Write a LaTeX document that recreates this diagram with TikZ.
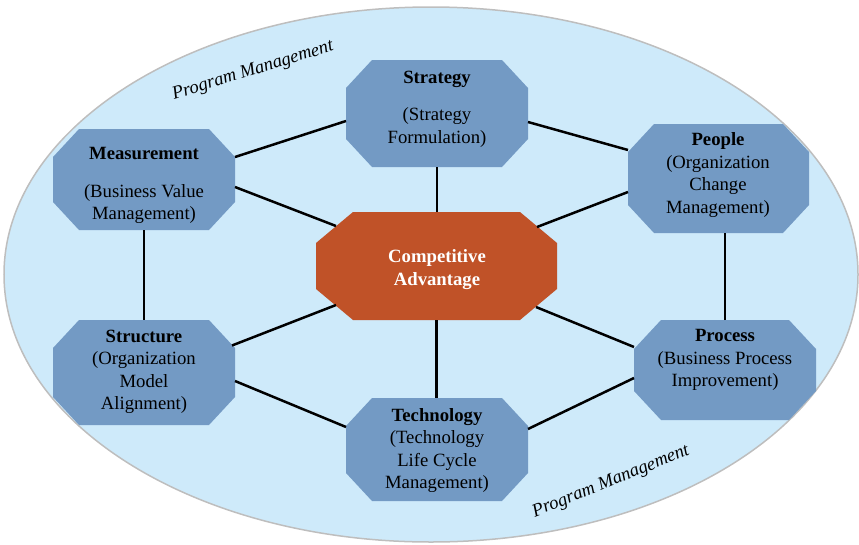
\documentclass[tikz,border=0pt]{standalone}
\usepackage{fontspec}
\setmainfont{Liberation Serif}
\usetikzlibrary{shapes.geometric,calc}
\definecolor{ellfill}{RGB}{206,234,250}
\definecolor{ellline}{RGB}{190,190,190}
\definecolor{octblue}{RGB}{115,154,196}
\definecolor{octorange}{RGB}{192,82,40}
\newcommand\octbox[8]{%
  \node[octshape, minimum width=#4pt, minimum height=#5pt] (#1) at (#2,#3) {};
  \fill[#8] ([xshift=#6pt]#1.north west) -- ([xshift=-#6pt]#1.north east)
    -- ([yshift=-#7pt]#1.north east) -- ([yshift=#7pt]#1.south east)
    -- ([xshift=-#6pt]#1.south east) -- ([xshift=#6pt]#1.south west)
    -- ([yshift=#7pt]#1.south west) -- ([yshift=-#7pt]#1.north west) -- cycle;
}
\begin{document}
\begin{tikzpicture}[x=1pt,y=-1pt,
  octshape/.style={rectangle, inner sep=0pt, outer sep=0pt},
  txt/.style={align=center, font=\fontsize{18.7}{22.5}\selectfont, inner sep=0pt},
  conn/.style={line width=2.5pt, black},
  pmtext/.style={font=\fontsize{18.5}{20}\selectfont\itshape, inner sep=0pt}]
\useasboundingbox (0,0) rectangle (859,544);
\node[ellipse, draw=ellline, line width=1.5pt, fill=ellfill, minimum width=854pt, minimum height=535pt, inner sep=0pt] (pmell) at (431,274.5) {};
\octbox{strat}{437}{113.5}{182}{107}{26}{28}{octblue}
\octbox{meas}{144}{179.5}{182}{101}{26}{28}{octblue}
\octbox{people}{718.5}{178.5}{181}{109}{26}{28}{octblue}
\octbox{ca}{436.5}{266}{241}{108}{37}{31}{octorange}
\octbox{struct}{144}{372.5}{182}{105}{26}{28}{octblue}
\octbox{tech}{437}{449.5}{182}{103}{26}{28}{octblue}
\octbox{proc}{725}{370}{182}{100}{27}{29}{octblue}
\draw[conn] ([yshift=22.5pt]meas.east) -- ([yshift=-7.5pt]strat.west);
\draw[conn] ([yshift=-8.5pt]strat.east) -- ([yshift=28.5pt]people.west);
\draw[conn] (strat.south) -- (strat.south |- ca.north);
\draw[conn] ([yshift=-7.5pt]meas.east) -- ([xshift=20pt,yshift=40pt]ca.west);
\draw[conn] ([yshift=-13.5pt]people.west) -- ([xshift=-20pt,yshift=39pt]ca.east);
\draw[conn] (meas.south) -- (struct.north);
\draw[conn] (proc.north) -- (proc.north |- people.south);
\draw[conn] ([xshift=-3pt,yshift=27pt]struct.east) -- ([xshift=20pt,yshift=-39pt]ca.west);
\draw[conn] ([yshift=-8.5pt]struct.east) -- ([yshift=22.5pt]tech.west);
\draw[conn] ([xshift=-21pt,yshift=-41pt]ca.east) -- ([yshift=23pt]proc.west);
\draw[conn] (ca.south) -- (ca.south |- tech.north);
\draw[conn] ([yshift=20.5pt]tech.east) -- ([yshift=-8pt]proc.west);
\node[txt] (strat-t) at (437,109) {\textbf{Strategy}\\[15pt](Strategy\\Formulation)};
\node[txt] (meas-t) at (144,185.5) {\textbf{Measurement}\\[15pt](Business Value\\Management)};
\node[txt] (people-t) at (718,175) {\textbf{People}\\(Organization\\Change\\Management)};
\node[txt, text=white] (ca-t) at (437,269.5) {\textbf{Competitive}\\\textbf{Advantage}};
\node[txt] (struct-t) at (144,372) {\textbf{Structure}\\(Organization\\Model\\Alignment)};
\node[txt] (tech-t) at (437,450.5) {\textbf{Technology}\\(Technology\\Life Cycle\\Management)};
\node[txt] (proc-t) at (725,360) {\textbf{Process}\\(Business Process\\Improvement)};
\node[pmtext, rotate=17] (pm-top) at (253,71) {Program Management};
\node[pmtext, rotate=22] (pm-bot) at (611,482) {Program Management};
\end{tikzpicture}
\end{document}
